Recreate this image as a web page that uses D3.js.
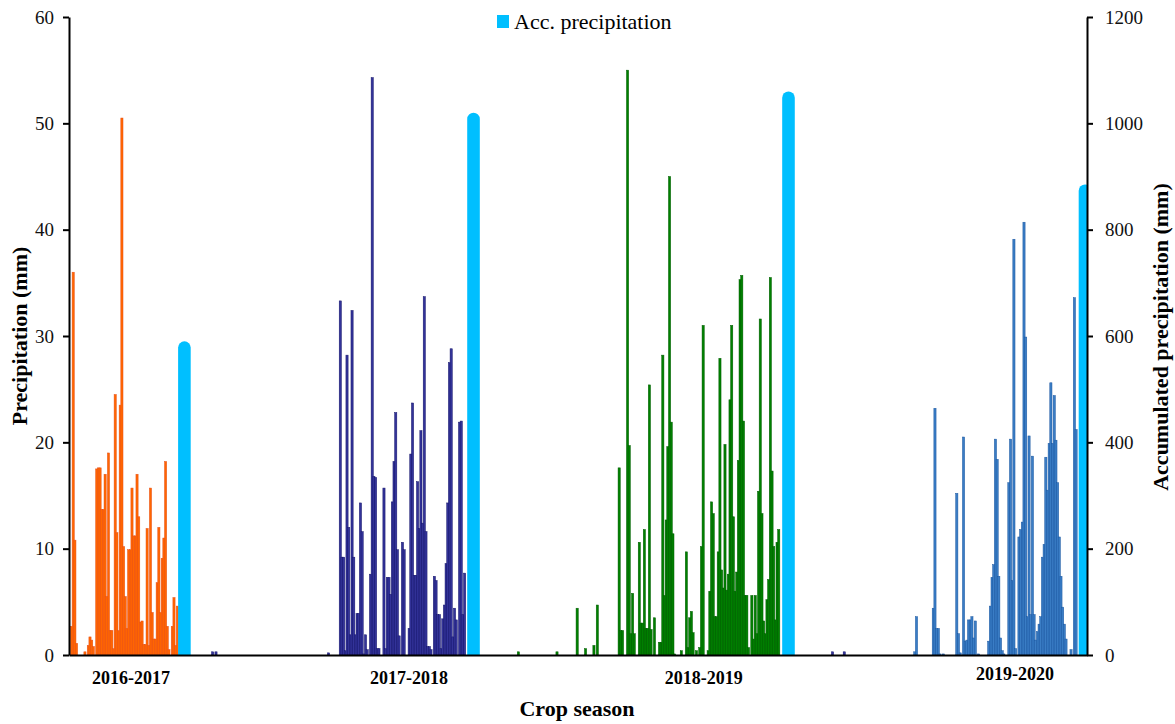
<!DOCTYPE html>
<html>
<head>
<meta charset="utf-8">
<script src="https://cdn.jsdelivr.net/npm/d3@7"></script>
<style>
  body { margin: 0; background: #fff; }
  svg { display: block; font-family: "Liberation Serif", "Times New Roman", serif; }
</style>
</head>
<body>
<div id="chart"></div>
<script>
// daily precipitation (mm), one value per day slot, starting at seasonStart
const seasons = ["2016-2017", "2017-2018", "2018-2019", "2019-2020"];
const seasonStart = [1, 161, 327, 503];
const rain1617 = [2.7, 36, 10.8, 1.1, 0, 0, 0, 0, 0.3, 0, 0.9, 1.7, 1.4, 0.8, 0, 17.5, 17.6, 17.6, 13.7, 13.7,
  17.0, 5.5, 19.0, 2.3, 2.3, 0.6, 24.5, 11.5, 2.3, 23.5, 50.5, 10.2, 5.5, 2.5, 9.9, 9.9, 15.7, 11.2, 11.2, 17.0,
  13.0, 3.1, 3.2, 1.0, 1.0, 11.9, 0.9, 15.7, 4.0, 1.5, 1.5, 6.8, 12.0, 4.0, 9.1, 11.0, 18.2, 2.7, 0.5, 0,
  2.7, 5.4, 0.9, 4.6];
const rain1718 = [33.3, 9.2, 9.2, 0.4, 28.2, 12.0, 1.9, 32.4, 9.2, 1.9, 3.9, 3.9, 14.3, 11.6, 0.1, 1.9, 0.5, 0, 7.6, 54.3,
  16.8, 16.7, 0.6, 0.6, 0, 0, 15.7, 0.6, 7.3, 7.3, 5.7, 14.4, 18.2, 22.8, 9.9, 1.8, 0, 10.6, 9.9, 0,
  0, 2.5, 18.9, 23.7, 7.5, 7.5, 16.3, 11.9, 21.1, 12.4, 33.7, 11.6, 0.8, 0.8, 0.5, 0, 7.4, 7.0, 3.8, 3.8,
  0.6, 3.4, 4.7, 8.6, 14.3, 27.5, 28.8, 1.7, 4.4, 3.3, 0, 21.9, 22.0, 3.8, 7.7];
const rain1819 = [17.6, 2.3, 2.3, 0, 0, 55.0, 19.7, 2.0, 5.8, 2.0, 0, 0, 10.6, 3.0, 3.0, 11.8, 2.5, 2.5, 25.4, 2.4,
  0, 3.5, 0, 0, 1.2, 1.2, 28.2, 5.6, 12.7, 19.6, 45.0, 21.9, 11.4, 0.1, 0, 0, 0, 0.4, 0, 0,
  9.7, 0.7, 3.5, 4.1, 2.1, 0, 0.4, 0, 0.7, 10.2, 31.0, 0, 0, 0.4, 6.0, 14.4, 13.3, 3.6, 3.6, 9.7,
  27.9, 8.0, 6.3, 19.8, 6.1, 7.6, 24.0, 31.0, 13.0, 6.0, 7.8, 18.3, 35.3, 35.7, 22.0, 5.6, 5.6, 0.7, 0, 5.6,
  1.5, 5.6, 2.0, 15.4, 31.6, 13.3, 3.2, 2.0, 5.2, 7.1, 35.5, 17.3, 10.2, 3.3, 10.6, 11.8];
const rain1920 = [0.3, 3.6, 0, 0, 0, 0, 0, 0, 0, 0, 0, 4.4, 23.2, 2.5, 2.5, 0.1, 0, 0.1, 0, 0,
  0, 0, 0, 0, 0, 15.2, 2.0, 0.2, 0, 20.5, 1.3, 1.4, 3.3, 3.3, 3.6, 1.6, 3.2, 0, 0.1, 0,
  0, 0, 0, 0, 1.3, 4.6, 7.3, 8.5, 20.3, 18.4, 7.4, 1.6, 0.4, 0.1, 0, 0, 16.2, 20.3, 7.0, 39.1,
  0.6, 0, 11.1, 11.8, 12.5, 40.7, 29.9, 3.6, 20.6, 3.8, 18.7, 3.8, 1.4, 2.2, 2.9, 3.6, 9.2, 10.4, 18.6, 15.5,
  19.9, 25.6, 19.9, 24.4, 20.2, 16.2, 11.1, 7.4, 4.5, 2.9, 1.5, 0, 0, 0.5, 0, 33.6, 21.2];
const seasonRain = [rain1617, rain1718, rain1819, rain1920];
// isolated small events outside the main runs: [season, slot, mm]
const strayRain = [[1, 85, 0.3], [1, 87, 0.3], [1, 154, 0.2], [2, 267, 0.3], [2, 290, 0.3], [2, 302, 4.4],
  [2, 307, 0.6], [2, 312, 0.9], [2, 314, 4.7], [1, 454, 0.3], [1, 461, 0.3]];
// accumulated precipitation per season (mm, right axis)
const accPrecip = [590, 1020, 1060, 885];
const accSlot = [68.7, 240.8, 428.3, 604.8];
const labelSlot = [36.9, 202.4, 377.9, 563.1];
const leftTicks = [0, 10, 20, 30, 40, 50, 60];
const rightTicks = [0, 200, 400, 600, 800, 1000, 1200];
const totalSlots = 606;

const width = 1175, height = 724;
const mLeft = 69, mRight = 1087, mTop = 17, mBottom = 655;
const fills = ["#ff6600", "#333399", "#008000", "#3a7dc5"];
const edges = ["#e8501a", "#15156b", "#005c00", "#1a56a0"];
const accColor = "#00bfff";

const svg = d3.select("#chart").append("svg")
  .attr("width", width)
  .attr("height", height);

const x = d3.scaleLinear().domain([0, totalSlots]).range([mLeft, mRight]);
const yL = d3.scaleLinear().domain([0, 60]).range([mBottom, mTop]);
const yR = d3.scaleLinear().domain([0, 1200]).range([mBottom, mTop]);

svg.append("clipPath").attr("id", "plot")
  .append("rect").attr("x", mLeft).attr("y", 0).attr("width", mRight - mLeft).attr("height", mBottom);

// daily bars
let bars = [];
seasonRain.forEach((vals, s) => {
  vals.forEach((v, i) => { if (v > 0) bars.push({ s: s, slot: seasonStart[s] + i, v: v }); });
});
strayRain.forEach(d => bars.push({ s: d[0], slot: d[1], v: d[2] }));

const barW = x(1) - x(0) + 0.5;
const plot = svg.append("g").attr("clip-path", "url(#plot)");
plot.selectAll(".day")
  .data(bars)
  .enter()
  .append("rect")
  .classed("day", true)
  .attr("x", d => x(d.slot) - 0.25)
  .attr("width", barW)
  .attr("y", d => yL(d.v))
  .attr("height", d => yL(0) - yL(d.v))
  .attr("fill", d => fills[d.s])
  .attr("stroke", d => edges[d.s])
  .attr("stroke-width", 0.5);

// accumulated bars with rounded top
const hw = 6.3;
plot.selectAll(".acc")
  .data(accPrecip)
  .enter()
  .append("path")
  .classed("acc", true)
  .attr("fill", accColor)
  .attr("d", (v, i) => {
    const cx = x(accSlot[i]), t = yR(v), b = yR(0);
    return `M${cx - hw},${b}V${t + hw}A${hw},${hw} 0 0 1 ${cx + hw},${t + hw}V${b}Z`;
  });

// axes
function styleAxis(g) {
  g.select(".domain").attr("stroke", "#000").attr("stroke-width", 2);
  g.selectAll(".tick line").attr("stroke", "#000").attr("stroke-width", 2);
  g.selectAll(".tick text").attr("font-size", 19).attr("fill", "#111")
    .attr("font-family", "Liberation Serif, serif");
}

svg.append("g")
  .attr("transform", `translate(0,${mBottom})`)
  .call(d3.axisBottom(x).tickValues([]).tickSizeOuter(0))
  .call(styleAxis);

svg.append("g")
  .attr("transform", `translate(${mLeft},0)`)
  .call(d3.axisLeft(yL).tickValues(leftTicks).tickSize(6).tickSizeOuter(0).tickPadding(9))
  .call(styleAxis);

svg.append("g")
  .attr("transform", `translate(${mRight},0)`)
  .call(d3.axisRight(yR).tickValues(rightTicks).tickFormat(d3.format("d"))
    .tickSize(6).tickSizeOuter(0).tickPadding(12))
  .call(styleAxis);

// season labels
const labelBase = [684, 684, 684, 680];
svg.selectAll(".season")
  .data(seasons)
  .enter()
  .append("text")
  .classed("season", true)
  .attr("x", (d, i) => x(labelSlot[i]))
  .attr("y", (d, i) => labelBase[i])
  .attr("text-anchor", "middle")
  .attr("font-weight", "bold")
  .attr("font-size", 18)
  .text(d => d);

svg.append("text")
  .attr("x", 577).attr("y", 716)
  .attr("text-anchor", "middle")
  .attr("font-weight", "bold")
  .attr("font-size", 22)
  .text("Crop season");

svg.append("text")
  .attr("transform", "translate(19,336) rotate(-90)")
  .attr("dy", "0.35em")
  .attr("text-anchor", "middle")
  .attr("font-weight", "bold")
  .attr("font-size", 22)
  .text("Precipitation (mm)");

svg.append("text")
  .attr("transform", "translate(1160,337) rotate(-90)")
  .attr("dy", "0.35em")
  .attr("text-anchor", "middle")
  .attr("font-weight", "bold")
  .attr("font-size", 22)
  .text("Accumulated precipitation (mm)");

// legend
svg.append("rect")
  .attr("x", 497).attr("y", 15).attr("width", 12).attr("height", 13)
  .attr("fill", accColor);
svg.append("text")
  .attr("x", 514).attr("y", 29)
  .attr("font-size", 22)
  .text("Acc. precipitation");
</script>
</body>
</html>
